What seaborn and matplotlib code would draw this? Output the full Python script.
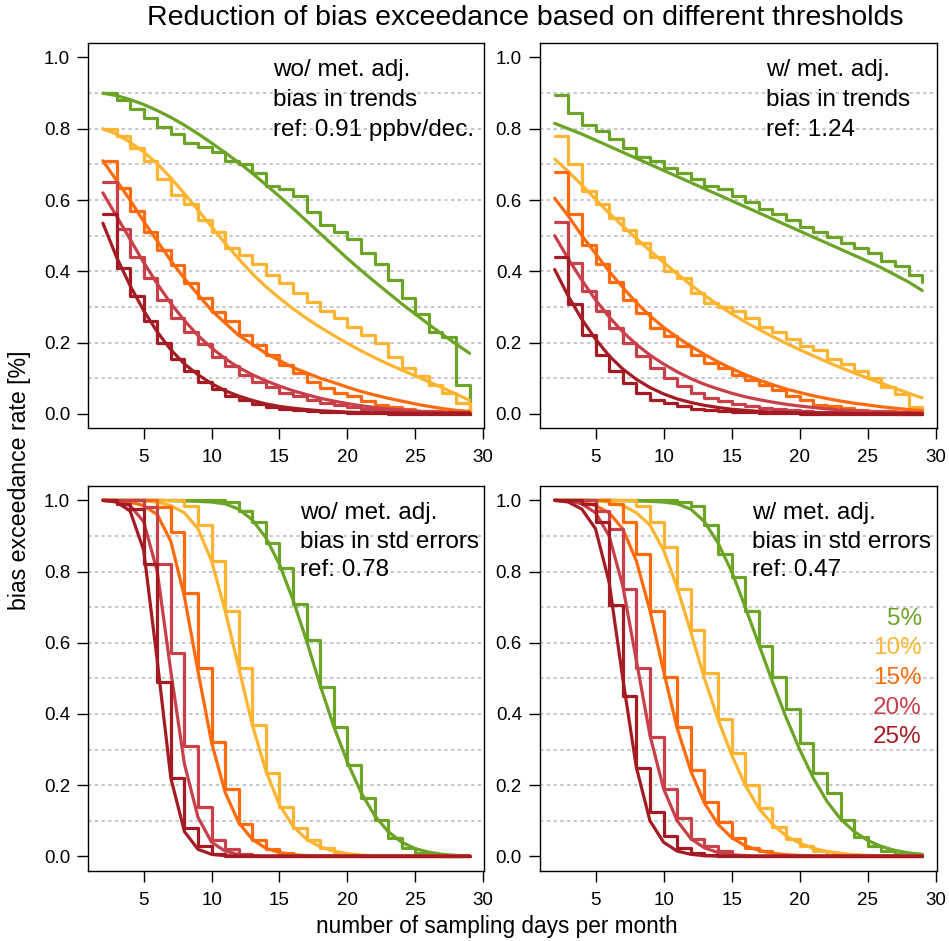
import numpy as np
import pandas as pd
import seaborn as sns
import matplotlib.pyplot as plt

days = list(range(2, 30))
thresholds = ['5%', '10%', '15%', '20%', '25%']
colors = ['#6ba427', '#fdb431', '#fe6a0c', '#c8404a', '#a51b24']

# top-left: wo/ met. adj., bias in trends
tl_step_5 = [.90, .88, .855, .83, .805, .786, .76, .75, .735, .71, .70, .675, .64, .63, .61, .567, .53, .51, .49, .45, .42, .376, .325, .28, .23, .217, .08, .0]
tl_step_10 = [.80, .78, .745, .71, .66, .615, .59, .545, .51, .465, .445, .42, .39, .367, .34, .315, .29, .27, .245, .222, .20, .16, .13, .105, .08, .06, .03, .0]
tl_step_15 = [.71, .633, .57, .51, .46, .418, .367, .325, .287, .26, .222, .194, .166, .138, .115, .09, .073, .059, .049, .035, .026, .019, .015, .009, .007, .005, .003, .0]
tl_step_20 = [.65, .52, .44, .38, .32, .27, .23, .195, .16, .135, .11, .09, .075, .06, .05, .04, .03, .025, .02, .015, .012, .009, .007, .005, .004, .003, .002, .0]
tl_step_25 = [.56, .41, .33, .26, .20, .155, .12, .09, .07, .05, .038, .028, .02, .015, .01, .008, .006, .004, .003, .002, .002, .001, .001, .001, .0, .0, .0, .0]
tl_fit_5 = [.900, .893, .882, .868, .851, .832, .810, .786, .760, .733, .705, .675, .643, .610, .576, .541, .506, .471, .436, .403, .371, .340, .309, .280, .251, .223, .196, .170]
tl_fit_10 = [.80, .785, .762, .735, .702, .662, .618, .572, .525, .479, .435, .393, .357, .325, .295, .268, .243, .22, .198, .177, .158, .14, .123, .107, .09, .073, .056, .038]
tl_fit_15 = [.71, .655, .60, .54, .485, .43, .38, .335, .29, .255, .22, .195, .17, .15, .13, .115, .10, .088, .075, .063, .053, .044, .036, .028, .021, .015, .01, .007]
tl_fit_20 = [.62, .555, .49, .425, .365, .31, .262, .22, .185, .155, .13, .11, .093, .078, .065, .054, .044, .036, .029, .023, .018, .014, .011, .008, .006, .005, .004, .003]
tl_fit_25 = [.535, .44, .36, .29, .23, .18, .14, .11, .085, .065, .05, .038, .028, .021, .016, .012, .009, .007, .005, .004, .003, .003, .002, .002, .002, .002, .002, .002]

# top-right: w/ met. adj., bias in trends
tr_step_5 = [.895, .845, .81, .795, .77, .745, .72, .71, .69, .675, .66, .64, .63, .61, .595, .575, .56, .545, .525, .51, .495, .48, .465, .45, .43, .415, .39, .37]
tr_step_10 = [.78, .70, .625, .59, .55, .515, .48, .44, .40, .38, .34, .31, .30, .29, .27, .245, .23, .21, .19, .18, .155, .14, .12, .10, .075, .055, .02, .0]
tr_step_15 = [.68, .56, .475, .42, .37, .32, .283, .24, .218, .19, .166, .143, .129, .11, .096, .082, .068, .05, .04, .026, .021, .017, .012, .009, .007, .005, .003, .0]
tr_step_20 = [.538, .423, .344, .288, .241, .199, .162, .129, .10, .078, .059, .045, .036, .028, .022, .017, .013, .01, .008, .006, .005, .004, .003, .002, .002, .001, .001, .0]
tr_step_25 = [.44, .307, .222, .166, .12, .087, .059, .04, .031, .021, .015, .011, .008, .006, .004, .003, .002, .002, .001, .001, .001, .0, .0, .0, .0, .0, .0, .0]
tr_fit_5 = [.815, .80, .785, .768, .751, .734, .717, .70, .683, .666, .649, .632, .615, .598, .581, .564, .547, .53, .513, .496, .479, .462, .445, .428, .41, .39, .37, .346]
tr_fit_10 = [.715, .68, .642, .602, .563, .527, .492, .458, .425, .393, .362, .333, .306, .281, .258, .237, .217, .198, .18, .163, .146, .13, .115, .10, .086, .072, .058, .045]
tr_fit_15 = [.605, .555, .50, .45, .40, .355, .312, .275, .243, .215, .19, .167, .146, .127, .11, .095, .082, .07, .06, .051, .043, .036, .03, .025, .02, .016, .012, .009]
tr_fit_20 = [.50, .435, .375, .32, .272, .23, .195, .165, .14, .118, .099, .083, .07, .058, .048, .04, .033, .027, .022, .018, .014, .011, .009, .007, .006, .005, .004, .003]
tr_fit_25 = [.405, .33, .265, .21, .163, .126, .097, .074, .056, .042, .032, .024, .018, .013, .01, .007, .005, .004, .003, .002, .002, .002, .001, .001, .001, .001, .001, .001]

# bottom-left: wo/ met. adj., bias in std errors
bl_step_5 = [1, 1, 1, 1, 1, 1, 1, 1, 1, .995, .97, .94, .88, .81, .71, .607, .477, .364, .257, .164, .103, .051, .023, .01, .005, .002, .001, .0]
bl_step_10 = [1, 1, 1, 1, 1, 1, .985, .93, .83, .69, .53, .37, .235, .14, .08, .047, .023, .01, .004, .002, 0, 0, 0, 0, 0, 0, 0, 0]
bl_step_15 = [1, 1, 1, 1, .98, .91, .74, .53, .32, .19, .09, .047, .02, .01, .004, .002, 0, 0, 0, 0, 0, 0, 0, 0, 0, 0, 0, 0]
bl_step_20 = [1, 1, 1, .98, .82, .57, .31, .14, .047, .02, .006, .002, 0, 0, 0, 0, 0, 0, 0, 0, 0, 0, 0, 0, 0, 0, 0, 0]
bl_step_25 = [1, .99, .975, .82, .49, .22, .08, .03, .008, .002, 0, 0, 0, 0, 0, 0, 0, 0, 0, 0, 0, 0, 0, 0, 0, 0, 0, 0]
bl_fit_5 = [1, 1, 1, 1, 1, .999, .998, .997, .995, .99, .975, .945, .895, .82, .72, .605, .48, .365, .265, .18, .115, .07, .04, .022, .012, .006, .003, .002]
bl_fit_10 = [1, 1, 1, .999, .995, .985, .965, .92, .83, .69, .53, .37, .24, .145, .085, .048, .027, .015, .008, .004, .002, .001, .001, .001, .001, .001, .001, .001]
bl_fit_15 = [1, .999, .995, .985, .96, .885, .73, .52, .32, .18, .095, .048, .023, .011, .005, .002, .001, .001, .001, .001, .001, .001, .001, .001, .001, .001, .001, .001]
bl_fit_20 = [1, .997, .985, .94, .80, .52, .26, .11, .04, .015, .005, .002, .001, .001, .001, .001, .001, .001, .001, .001, .001, .001, .001, .001, .001, .001, .001, .001]
bl_fit_25 = [1, .995, .97, .86, .55, .22, .07, .02, .006, .002, .001, .001, .001, .001, .001, .001, .001, .001, .001, .001, .001, .001, .001, .001, .001, .001, .001, .001]

# bottom-right: w/ met. adj., bias in std errors
br_step_5 = [1, 1, 1, 1, 1, 1, 1, 1, 1, .995, .985, .93, .85, .785, .69, .59, .505, .413, .318, .234, .178, .103, .056, .028, .014, .007, .004, .002]
br_step_10 = [1, 1, 1, 1, 1, 1, .985, .94, .87, .75, .636, .514, .385, .29, .20, .135, .084, .05, .028, .014, .005, .002, 0, 0, 0, 0, 0, 0]
br_step_15 = [1, 1, 1, 1, .99, .94, .85, .69, .505, .364, .243, .154, .098, .051, .025, .014, .005, .002, 0, 0, 0, 0, 0, 0, 0, 0, 0, 0]
br_step_20 = [1, 1, 1, .97, .92, .75, .53, .336, .19, .107, .05, .028, .014, .004, .001, 0, 0, 0, 0, 0, 0, 0, 0, 0, 0, 0, 0, 0]
br_step_25 = [1, 1, .99, .94, .705, .45, .248, .126, .058, .023, .01, .003, .001, 0, 0, 0, 0, 0, 0, 0, 0, 0, 0, 0, 0, 0, 0, 0]
br_fit_5 = [1, 1, 1, 1, 1, .999, .998, .997, .995, .99, .975, .94, .88, .80, .70, .595, .49, .39, .30, .22, .155, .105, .07, .045, .028, .017, .01, .006]
br_fit_10 = [1, 1, 1, .999, .995, .985, .965, .93, .86, .755, .63, .50, .385, .285, .20, .135, .09, .058, .037, .023, .014, .009, .005, .003, .002, .001, .001, .001]
br_fit_15 = [1, .998, .995, .985, .965, .92, .83, .69, .52, .36, .24, .15, .09, .053, .03, .017, .009, .005, .003, .002, .001, .001, .001, .001, .001, .001, .001, .001]
br_fit_20 = [1, .998, .99, .965, .90, .76, .55, .34, .19, .10, .05, .024, .011, .005, .002, .001, .001, .001, .001, .001, .001, .001, .001, .001, .001, .001, .001, .001]
br_fit_25 = [1, .995, .975, .92, .77, .50, .25, .10, .04, .015, .006, .002, .001, .001, .001, .001, .001, .001, .001, .001, .001, .001, .001, .001, .001, .001, .001, .001]

panel_text = [
    ['wo/ met. adj.', 'bias in trends', 'ref: 0.91 ppbv/dec.'],
    ['w/ met. adj.', 'bias in trends', 'ref: 1.24'],
    ['wo/ met. adj.', 'bias in std errors', 'ref: 0.78'],
    ['w/ met. adj.', 'bias in std errors', 'ref: 0.47'],
]

sns.set_style('ticks')
plt.rcParams['font.family'] = ['Liberation Sans', 'DejaVu Sans']
plt.rcParams['text.color'] = 'black'
plt.rcParams['xtick.color'] = 'black'
plt.rcParams['ytick.color'] = 'black'

fig = plt.figure(figsize=(9.49, 9.41), dpi=100)
boxes = [
    [0.093, 0.545, 0.4173, 0.4091],
    [0.569, 0.545, 0.4183, 0.4091],
    [0.093, 0.0747, 0.4173, 0.4088],
    [0.569, 0.0747, 0.4183, 0.4088],
]
steps = [
    [tl_step_5, tl_step_10, tl_step_15, tl_step_20, tl_step_25],
    [tr_step_5, tr_step_10, tr_step_15, tr_step_20, tr_step_25],
    [bl_step_5, bl_step_10, bl_step_15, bl_step_20, bl_step_25],
    [br_step_5, br_step_10, br_step_15, br_step_20, br_step_25],
]
fits = [
    [tl_fit_5, tl_fit_10, tl_fit_15, tl_fit_20, tl_fit_25],
    [tr_fit_5, tr_fit_10, tr_fit_15, tr_fit_20, tr_fit_25],
    [bl_fit_5, bl_fit_10, bl_fit_15, bl_fit_20, bl_fit_25],
    [br_fit_5, br_fit_10, br_fit_15, br_fit_20, br_fit_25],
]
text_x = [0.466, 0.569, 0.535, 0.534]
text_y = [[0.931, 0.853, 0.775], [0.931, 0.853, 0.775],
          [0.930, 0.854, 0.781], [0.930, 0.854, 0.781]]

for i in range(4):
    ax = fig.add_axes(boxes[i])
    for y in np.arange(0.1, 0.95, 0.1):
        ax.axhline(y, color='#b8b8b8', lw=1.1, ls=(0, (2.2, 2.2)), zorder=0)
    for k in range(5):
        sns.lineplot(x=days, y=steps[i][k], ax=ax, color=colors[k], lw=2.3,
                     drawstyle='steps-post', estimator=None, sort=False)
        sns.lineplot(x=days, y=fits[i][k], ax=ax, color=colors[k], lw=2.3,
                     estimator=None, sort=False)
    ax.set_xlim(0.92, 30.08)
    ax.set_ylim(-0.04, 1.04)
    ax.set_xticks([5, 10, 15, 20, 25, 30])
    ax.set_yticks([0, 0.2, 0.4, 0.6, 0.8, 1.0])
    ax.set_yticklabels(['0.0', '0.2', '0.4', '0.6', '0.8', '1.0'])
    ax.tick_params(axis='both', direction='out', length=8, width=1,
                   labelsize=13.5, color='black', labelcolor='black')
    ax.tick_params(axis='x', pad=7)
    ax.tick_params(axis='y', pad=5)
    for s in ax.spines.values():
        s.set_visible(True)
        s.set_linewidth(1.0)
        s.set_color('black')
    ax.set_xlabel('')
    ax.set_ylabel('')
    for line, ty in zip(panel_text[i], text_y[i]):
        ax.text(text_x[i], ty, line, transform=ax.transAxes, ha='left',
                va='center', fontsize=17.5, color='black')
    if i == 3:
        leg_y = [0.6545, 0.579, 0.501, 0.423, 0.348]
        for k in range(5):
            ax.text(0.962, leg_y[k], thresholds[k], transform=ax.transAxes,
                    ha='right', va='center', fontsize=17.5, color=colors[k])

fig.text(0.553, 0.981, 'Reduction of bias exceedance based on different thresholds',
         ha='center', va='center', fontsize=20.5, color='black')
fig.text(0.523, 0.015, 'number of sampling days per month', ha='center',
         va='center', fontsize=16.3, color='black')
fig.text(0.021, 0.49, 'bias exceedance rate [%]', ha='center', va='center',
         rotation=90, fontsize=16.7, color='black')

fig.savefig('out.png', dpi=100)
